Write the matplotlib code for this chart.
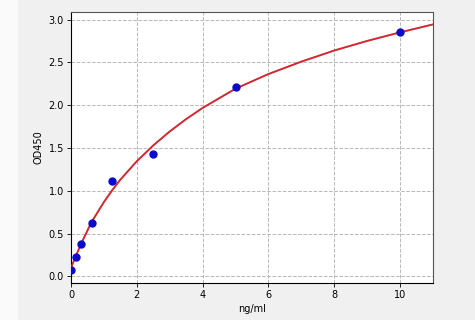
import matplotlib
matplotlib.use("Agg")
import matplotlib.pyplot as plt
from matplotlib.patches import Rectangle

# standard points (concentration, OD)
conc = [0, 0.156, 0.3125, 0.625, 1.25, 2.5, 5, 10]
od = [0.074, 0.222, 0.381, 0.63, 1.11, 1.43, 2.214, 2.852]

# fitted curve
curve_x = [0, 0.156, 0.3125, 0.625, 1.0, 1.25, 1.5, 2.0, 2.5, 3.0, 3.5, 4.0,
           5.0, 6.0, 7.0, 8.0, 9.0, 10.0, 11.0]
curve_y = [0.10, 0.245, 0.386, 0.636, 0.869, 1.006, 1.131, 1.346, 1.531, 1.694, 1.839, 1.969,
           2.194, 2.365, 2.51, 2.64, 2.752, 2.852, 2.945]

fig = plt.figure(figsize=(4.75, 3.2), dpi=100, facecolor='#f0f0f0')
fig.patches.append(Rectangle((0, 0), 18 / 475, 1, transform=fig.transFigure,
                             facecolor='#fafafa', edgecolor='none', zorder=0))
ax = fig.add_axes([71 / 475, 1 - 283 / 320, (433 - 71) / 475, (283 - 12) / 320])
ax.set_facecolor('white')

ax.plot(curve_x, curve_y, color='#444444', lw=1.4, alpha=0.5, zorder=2)
ax.plot(curve_x, curve_y, color='#e0202a', lw=1.2, zorder=3)
ax.plot(conc, od, 'o', color='#0a0acc', markersize=5, zorder=4)

ax.set_xlim(0, 11)
ax.set_ylim(-0.077, 3.09)
ax.set_xticks([0, 2, 4, 6, 8, 10])
ax.set_yticks([0.0, 0.5, 1.0, 1.5, 2.0, 2.5, 3.0])
ax.grid(True, linestyle='--', color='#b8b8b8', lw=0.7)
ax.tick_params(labelsize=7, length=3, width=0.6, pad=2)
for s in ax.spines.values():
    s.set_linewidth(0.8)
    s.set_color('#555555')
ax.spines['left'].set_color('black')
ax.spines['bottom'].set_color('black')

ax.set_xlabel('ng/ml', fontsize=7, labelpad=3)
ax.set_ylabel('OD450', fontsize=7, labelpad=4)

fig.savefig('out.png', dpi=100, facecolor=fig.get_facecolor())
